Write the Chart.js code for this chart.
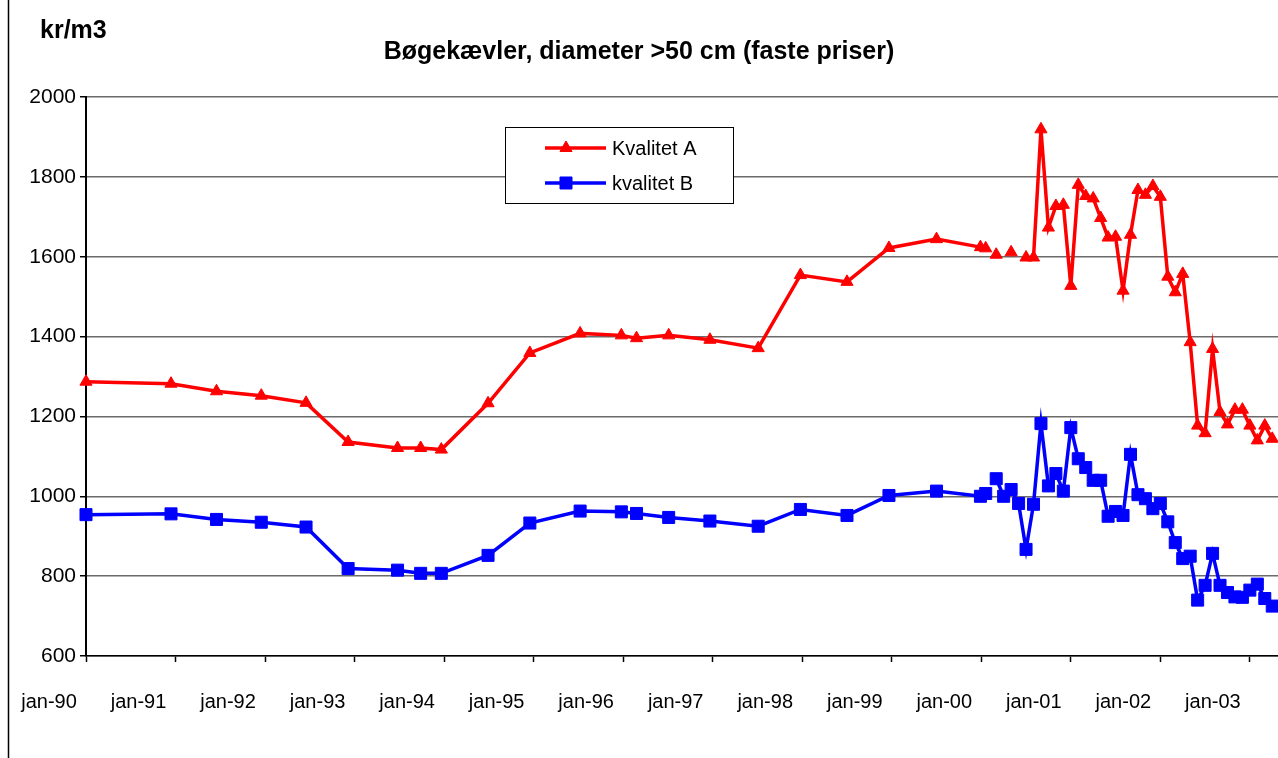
<!DOCTYPE html>
<html><head><meta charset="utf-8">
<script src="https://cdn.jsdelivr.net/npm/chart.js@4.4.1/dist/chart.umd.min.js"></script>
<style>
html,body{margin:0;padding:0;background:#fff;overflow:hidden;width:1278px;height:758px}
#wrap{position:relative;width:1278px;height:758px;overflow:hidden;background:#fff}
canvas{position:absolute;left:0;top:0}
</style></head>
<body><div id="wrap"><canvas id="c" width="1320" height="758"></canvas></div>
<script>
// ---- data ----
const titleText = 'Bøgekævler, diameter >50 cm (faste priser)';
const unitText = 'kr/m3';
const seriesNames = ['Kvalitet A', 'kvalitet B'];

const dates = [
  '1990-01-01','1990-12-13','1991-06-16','1991-12-16','1992-06-16','1992-12-05',
  '1993-06-24','1993-09-27','1993-12-20','1994-06-28','1994-12-16','1995-07-08',
  '1995-12-24','1996-02-25','1996-07-04','1996-12-20','1997-07-04','1997-12-24',
  '1998-07-01','1998-12-20','1999-07-01','1999-12-28','2000-01-19',
  '2000-02-01','2000-03-01','2000-04-01','2000-05-01','2000-06-01','2000-07-01','2000-08-01',
  '2000-09-01','2000-10-01','2000-11-01','2000-12-01',
  '2001-01-01','2001-02-01','2001-03-01','2001-04-01','2001-05-01','2001-06-01',
  '2001-07-01','2001-08-01','2001-09-01','2001-10-01','2001-11-01','2001-12-01',
  '2002-01-01','2002-02-01','2002-03-01','2002-04-01','2002-05-01','2002-06-01',
  '2002-07-01','2002-08-01','2002-09-01','2002-10-01','2002-11-01','2002-12-01',
  '2003-01-01','2003-02-01','2003-03-01','2003-04-01'
];

const kvalitetA = [
  1287,1282,1263,1252,1234,1136,
  1121,1121,1117,1233,1359,1408,
  1403,1396,1403,1392,1371,1554,
  1537,1622,1644,1624,1621,
  null,1605,null,1611,null,1598,1598,
  1919,1673,1727,1730,
  1527,1780,1752,1746,1697,1648,
  1650,1515,1655,1767,1755,1777,
  1750,1550,1511,1557,1386,1177,
  1158,1369,1211,1180,1217,1217,
  1177,1140,1177,1144
];

const kvalitetB = [
  954,956,942,935,923,819,
  815,807,807,852,933,963,
  961,957,947,938,925,967,
  952,1002,1013,1000,1007,
  null,1044,1000,1017,982,867,980,
  1182,1026,1057,1013,
  1172,1094,1072,1040,1040,950,
  962,952,1105,1004,994,969,
  982,936,884,844,850,740,
  777,857,777,759,748,747,
  765,780,744,725
];

const xTickYears = [1990,1991,1992,1993,1994,1995,1996,1997,1998,1999,2000,2001,2002,2003];
const yMin = 600, yMax = 2000, yStep = 200;
const xFirstYear = 1990, xLastVisible = 2003.56;

// ---- helpers ----
function toYear(s){
  const [y,m,d] = s.split('-').map(Number);
  return y + (m-1)/12 + (d-1)/365;
}
function pts(vals){ return dates.map((d,i)=>({x:toYear(d), y:vals[i]})); }

const FONT = '"Liberation Sans", Arial, sans-serif';

const decor = {
  id:'decor',
  beforeDraw(chart){
    const c = chart.ctx;
    c.save();
    c.fillStyle = '#fff';
    c.fillRect(0,0,chart.width,chart.height);
    c.strokeStyle = '#000'; c.lineWidth = 1.5;
    c.beginPath(); c.moveTo(8.5,0); c.lineTo(8.5,chart.height); c.stroke();
    c.fillStyle = '#000';
    c.textBaseline = 'middle';
    c.font = 'bold 25px ' + FONT;
    c.textAlign = 'left';
    c.fillText(unitText, 40, 31);
    c.font = 'bold 25px ' + FONT;
    c.textAlign = 'center';
    c.fillText(titleText, 639, 52);
    c.restore();
  },
  afterDatasetsDraw(chart){
    const c = chart.ctx;
    c.save();
    c.fillStyle = '#fff';
    c.fillRect(505,127,228,76);
    c.strokeStyle = '#000'; c.lineWidth = 1;
    c.strokeRect(505.5,127.5,228,76);
    chart.data.datasets.forEach((ds,i)=>{
      const y = 148 + i*35;
      c.strokeStyle = ds.borderColor; c.lineWidth = ds.borderWidth;
      c.beginPath(); c.moveTo(545,y); c.lineTo(606,y); c.stroke();
      c.fillStyle = ds.pointBackgroundColor; c.strokeStyle = ds.pointBorderColor;
      c.lineWidth = ds.pointBorderWidth;
      Chart.helpers.drawPoint(c, {pointStyle: ds.pointStyle, radius: ds.pointRadius, borderWidth: ds.pointBorderWidth, rotation:0}, 566, y);
      c.fillStyle = '#000';
      c.font = '20px ' + FONT;
      c.textAlign = 'left'; c.textBaseline = 'middle';
      c.fillText(ds.label, 612, y+1);
    });
    c.restore();
  }
};

new Chart(document.getElementById('c'), {
  type:'line',
  data:{
    datasets:[
      {label:seriesNames[0], data:pts(kvalitetA), borderColor:'#ff0000', backgroundColor:'#ff0000',
       borderWidth:3.5, pointStyle:'triangle', pointRadius:7, pointBorderWidth:1,
       pointBackgroundColor:'#ff0000', pointBorderColor:'#ff0000', tension:0, clip:false, spanGaps:false},
      {label:seriesNames[1], data:pts(kvalitetB), borderColor:'#0000ff', backgroundColor:'#0000ff',
       borderWidth:3.5, pointStyle:'rect', pointRadius:8.5, pointBorderWidth:1,
       pointBackgroundColor:'#0000ff', pointBorderColor:'#0000ff', tension:0, clip:false, spanGaps:false}
    ]
  },
  options:{
    responsive:false, animation:false, devicePixelRatio:1,
    layout:{padding:{top:97,left:0,right:20,bottom:0}},
    plugins:{legend:{display:false}, title:{display:false}, tooltip:{enabled:false}},
    scales:{
      x:{type:'linear', min:xFirstYear, max:xLastVisible,
        afterFit(s){ s.height = 102; },
        afterBuildTicks(s){ s.ticks = xTickYears.map(v=>({value:v})); },
        ticks:{autoSkip:false, maxRotation:0, minRotation:0, labelOffset:-37, padding:28,
          color:'#000', font:{family:FONT, size:20},
          callback:v=>'jan-'+String(v).slice(2)},
        grid:{drawOnChartArea:false, drawTicks:true, tickLength:6, tickColor:'#000', tickWidth:1.5},
        border:{display:true, color:'#000', width:1.5}
      },
      y:{type:'linear', min:yMin, max:yMax,
        afterFit(s){ s.width = 86; },
        ticks:{stepSize:yStep, padding:4, color:'#000', font:{family:FONT, size:21},
          callback:v=>String(v)},
        grid:{color:'#6b6b6b', lineWidth:1.5, drawTicks:true, tickLength:6, tickColor:'#000', tickWidth:1.5},
        border:{display:true, color:'#000', width:2}
      }
    }
  },
  plugins:[decor]
});
</script>
</body></html>
